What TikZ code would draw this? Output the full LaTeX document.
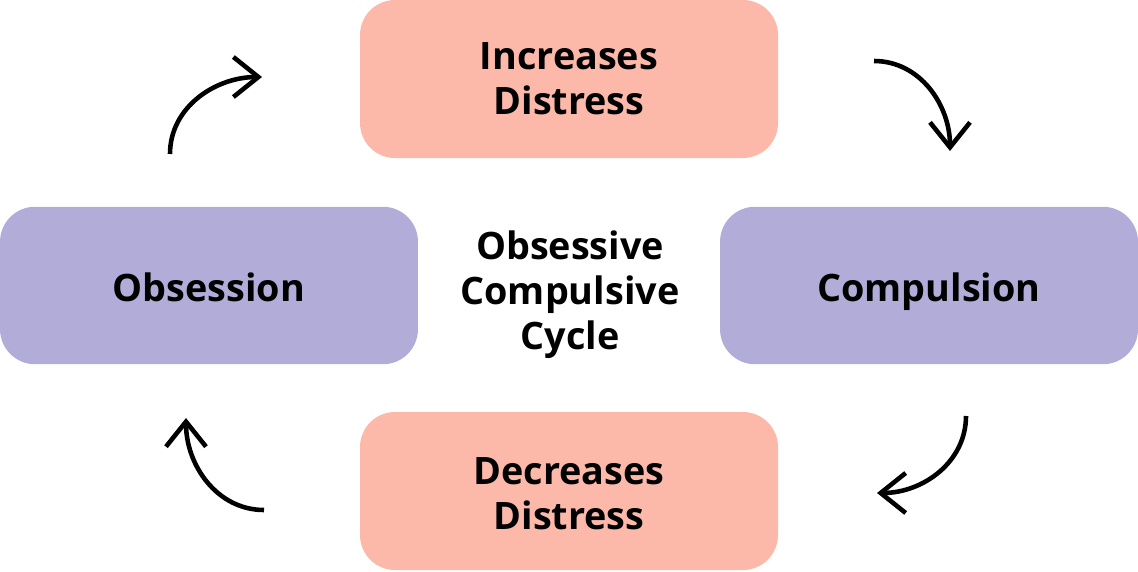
\documentclass[tikz,border=0pt]{standalone}
\usepackage{fontspec}
\setmainfont{Open Sans}
\usetikzlibrary{arrows.meta}
\definecolor{distress}{HTML}{FCB9AA}
\definecolor{phase}{HTML}{B1ADD8}
\tikzset{
    stage/.style={rounded corners=0.7cm,minimum width=8.36cm,minimum height=3.15cm,align=center,
        font=\fontsize{21.5}{25.6}\selectfont\bfseries},
    single/.style={stage,fill=phase,text height=0.56cm,text depth=0.14cm},
    turn/.style={line width=2.6pt,-{Straight Barb[length=0.5cm,width=0.8cm,line width=2.6pt]}}
}
\begin{document}
\begin{tikzpicture}[x=0.02cm,y=-0.02cm]
        \useasboundingbox (0,0) rectangle (1138,571);
        \fill[distress,rounded corners=0.7cm] (360,0) rectangle (778,158);
        \node[stage] (inc) at (569,79) {Increases\\Distress};
        \node[single] (obs) at (209,285.5) {\raisebox{-3pt}{Obsession}};
        \node[single] (comp) at (929,285.5) {\raisebox{-3pt}{Compulsion}};
        \fill[distress,rounded corners=0.7cm] (360,412) rectangle (778,570);
        \node[stage] (dec) at (569,494) {Decreases\\Distress};
        \node[align=center,font=\fontsize{21.5}{25.6}\selectfont\bfseries] (cycle) at (570,295) {Obsessive\\Compulsive\\Cycle};

        % curved arrows between the boxes
        \coordinate (tl1) at (170,154); \coordinate (tl2) at (262,77);
        \coordinate (tr1) at (874,61);  \coordinate (tr2) at (950,151);
        \coordinate (br1) at (966,416); \coordinate (br2) at (877,493);
        \coordinate (bl1) at (264,510); \coordinate (bl2) at (186,418);
        \draw[turn] (tl1) to[out=90,in=180] (tl2);
        \draw[turn] (tr1) to[out=0,in=90] (tr2);
        \draw[turn] (br1) to[out=-90,in=0] (br2);
        \draw[turn] (bl1) to[out=180,in=-90] (bl2);
\end{tikzpicture}
\end{document}
